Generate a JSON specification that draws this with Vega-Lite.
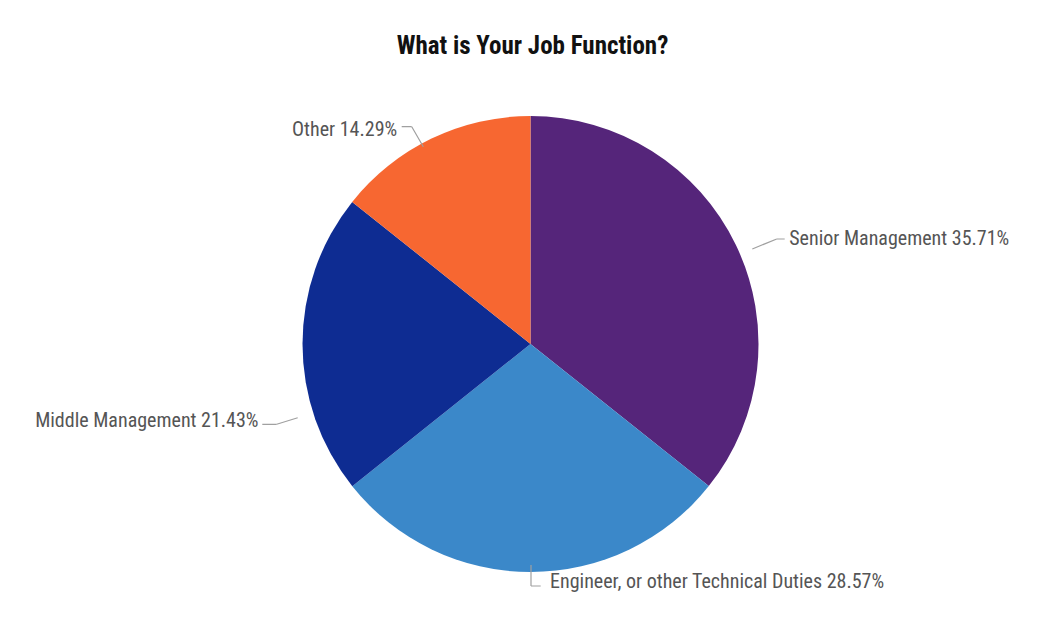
{
  "$schema": "https://vega.github.io/schema/vega-lite/v6.json",
  "width": 1061,
  "height": 556,
  "autosize": "none",
  "padding": {"top": 66, "left": 0, "right": 0, "bottom": 0},
  "background": "#ffffff",
  "config": {"view": {"stroke": null}},
  "title": {
    "text": "What is Your Job Function?",
    "font": "Roboto Condensed, Liberation Sans Narrow, DejaVu Sans Condensed, sans-serif",
    "fontSize": 25,
    "fontWeight": "bold",
    "color": "#111111",
    "offset": 7,
    "anchor": "middle",
    "frame": "group",
    "dx": 2
  },
  "data": {
    "values": [
      {"cat": "Senior Management", "value": 35.71, "label": "Senior Management 35.71%"},
      {"cat": "Engineer, or other Technical Duties", "value": 28.57, "label": "Engineer, or other Technical Duties 28.57%"},
      {"cat": "Middle Management", "value": 21.43, "label": "Middle Management 21.43%"},
      {"cat": "Other", "value": 14.29, "label": "Other 14.29%"}
    ]
  },
  "layer": [
    {
      "mark": {"type": "arc", "outerRadius": 228},
      "encoding": {
        "theta": {"field": "value", "type": "quantitative", "stack": true},
        "order": {"field": "value", "sort": "descending"},
        "color": {
          "field": "cat",
          "type": "nominal",
          "legend": null,
          "scale": {
            "domain": ["Senior Management", "Engineer, or other Technical Duties", "Middle Management", "Other"],
            "range": ["#55257a", "#3b88c9", "#0e2c92", "#f76731"]
          }
        }
      }
    },
    {
      "transform": [
        {"stack": "value", "groupby": [], "as": ["v0", "v1"], "sort": [{"field": "value", "order": "descending"}]},
        {"filter": "datum.cat === 'Other'"}
      ],
      "mark": {"type": "arc", "radius": 23, "padAngle": 3.1416, "filled": false, "stroke": "#a0a0a0", "strokeWidth": 1.2, "thetaOffset": -0.0764, "theta2Offset": -0.0764, "xOffset": -107.2, "yOffset": -197.3},
      "encoding": {"theta": {"field": "v0", "type": "quantitative"}, "theta2": {"field": "v1"}}
    },
    {
      "transform": [
        {"stack": "value", "groupby": [], "as": ["v0", "v1"], "sort": [{"field": "value", "order": "descending"}]},
        {"filter": "datum.cat === 'Other'"}
      ],
      "mark": {"type": "arc", "radius": 10, "padAngle": 3.1416, "filled": false, "stroke": "#a0a0a0", "strokeWidth": 1.2, "thetaOffset": -1.1219, "theta2Offset": -1.1219, "xOffset": -118.8, "yOffset": -217.3},
      "encoding": {"theta": {"field": "v0", "type": "quantitative"}, "theta2": {"field": "v1"}}
    },
    {
      "transform": [
        {"stack": "value", "groupby": [], "as": ["v0", "v1"], "sort": [{"field": "value", "order": "descending"}]},
        {"filter": "datum.cat === 'Senior Management'"}
      ],
      "mark": {"type": "arc", "radius": 26.4, "padAngle": 3.1416, "filled": false, "stroke": "#a0a0a0", "strokeWidth": 1.2, "thetaOffset": 0.0597, "theta2Offset": 0.0597, "xOffset": 221.8, "yOffset": -95},
      "encoding": {"theta": {"field": "v0", "type": "quantitative"}, "theta2": {"field": "v1"}}
    },
    {
      "transform": [
        {"stack": "value", "groupby": [], "as": ["v0", "v1"], "sort": [{"field": "value", "order": "descending"}]},
        {"filter": "datum.cat === 'Senior Management'"}
      ],
      "mark": {"type": "arc", "radius": 8, "padAngle": 3.1416, "filled": false, "stroke": "#a0a0a0", "strokeWidth": 1.2, "thetaOffset": 0.4489, "theta2Offset": 0.4489, "xOffset": 246.2, "yOffset": -105},
      "encoding": {"theta": {"field": "v0", "type": "quantitative"}, "theta2": {"field": "v1"}}
    },
    {
      "transform": [
        {"stack": "value", "groupby": [], "as": ["v0", "v1"], "sort": [{"field": "value", "order": "descending"}]},
        {"filter": "datum.cat === 'Middle Management'"}
      ],
      "mark": {"type": "arc", "radius": 22, "padAngle": 3.1416, "filled": false, "stroke": "#a0a0a0", "strokeWidth": 1.2, "thetaOffset": -0.3042, "theta2Offset": -0.3042, "xOffset": -232.8, "yOffset": 73.7},
      "encoding": {"theta": {"field": "v0", "type": "quantitative"}, "theta2": {"field": "v1"}}
    },
    {
      "transform": [
        {"stack": "value", "groupby": [], "as": ["v0", "v1"], "sort": [{"field": "value", "order": "descending"}]},
        {"filter": "datum.cat === 'Middle Management'"}
      ],
      "mark": {"type": "arc", "radius": 14.4, "padAngle": 3.1416, "filled": false, "stroke": "#a0a0a0", "strokeWidth": 1.2, "thetaOffset": 0.0003, "theta2Offset": 0.0003, "xOffset": -253.8, "yOffset": 80.3},
      "encoding": {"theta": {"field": "v0", "type": "quantitative"}, "theta2": {"field": "v1"}}
    },
    {
      "transform": [
        {"stack": "value", "groupby": [], "as": ["v0", "v1"], "sort": [{"field": "value", "order": "descending"}]},
        {"filter": "datum.cat === 'Engineer, or other Technical Duties'"}
      ],
      "mark": {"type": "arc", "radius": 21, "padAngle": 3.1416, "filled": false, "stroke": "#a0a0a0", "strokeWidth": 1.2, "thetaOffset": 0, "theta2Offset": 0, "xOffset": 0.5, "yOffset": 221},
      "encoding": {"theta": {"field": "v0", "type": "quantitative"}, "theta2": {"field": "v1"}}
    },
    {
      "transform": [
        {"stack": "value", "groupby": [], "as": ["v0", "v1"], "sort": [{"field": "value", "order": "descending"}]},
        {"filter": "datum.cat === 'Engineer, or other Technical Duties'"}
      ],
      "mark": {"type": "arc", "radius": 9.7, "padAngle": 3.1416, "filled": false, "stroke": "#a0a0a0", "strokeWidth": 1.2, "thetaOffset": -1.5708, "theta2Offset": -1.5708, "xOffset": 0.5, "yOffset": 242},
      "encoding": {"theta": {"field": "v0", "type": "quantitative"}, "theta2": {"field": "v1"}}
    },
    {
      "mark": {"type": "text", "radius": 245, "align": "left", "baseline": "middle", "dx": 38, "dy": 1, "font": "Roboto Condensed, Liberation Sans Narrow, DejaVu Sans Condensed, sans-serif", "fontSize": 20, "fill": "#555555"},
      "encoding": {
        "theta": {"field": "value", "type": "quantitative", "stack": true},
        "order": {"field": "value", "sort": "descending"},
        "text": {"condition": {"test": "datum.cat === 'Senior Management'", "field": "label", "type": "nominal"}, "value": ""}
      }
    },
    {
      "mark": {"type": "text", "radius": 245, "align": "left", "baseline": "middle", "dx": 19.5, "dy": -7, "font": "Roboto Condensed, Liberation Sans Narrow, DejaVu Sans Condensed, sans-serif", "fontSize": 20, "fill": "#555555"},
      "encoding": {
        "theta": {"field": "value", "type": "quantitative", "stack": true},
        "order": {"field": "value", "sort": "descending"},
        "text": {"condition": {"test": "datum.cat === 'Engineer, or other Technical Duties'", "field": "label", "type": "nominal"}, "value": ""}
      }
    },
    {
      "mark": {"type": "text", "radius": 245, "align": "right", "baseline": "middle", "dx": -27, "dy": 77, "font": "Roboto Condensed, Liberation Sans Narrow, DejaVu Sans Condensed, sans-serif", "fontSize": 20, "fill": "#555555"},
      "encoding": {
        "theta": {"field": "value", "type": "quantitative", "stack": true},
        "order": {"field": "value", "sort": "descending"},
        "text": {"condition": {"test": "datum.cat === 'Middle Management'", "field": "label", "type": "nominal"}, "value": ""}
      }
    },
    {
      "mark": {"type": "text", "radius": 245, "align": "right", "baseline": "middle", "dx": -27, "dy": 7, "font": "Roboto Condensed, Liberation Sans Narrow, DejaVu Sans Condensed, sans-serif", "fontSize": 20, "fill": "#555555"},
      "encoding": {
        "theta": {"field": "value", "type": "quantitative", "stack": true},
        "order": {"field": "value", "sort": "descending"},
        "text": {"condition": {"test": "datum.cat === 'Other'", "field": "label", "type": "nominal"}, "value": ""}
      }
    }
  ]
}
